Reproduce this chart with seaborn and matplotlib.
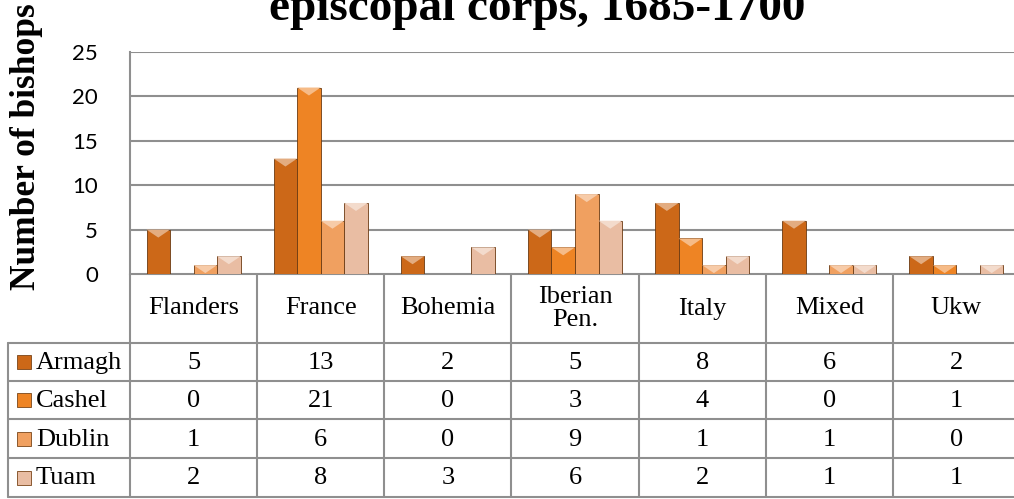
import numpy as np
import pandas as pd
import matplotlib
matplotlib.use("Agg")
import matplotlib.pyplot as plt
import seaborn as sns
from matplotlib.patches import Polygon, Rectangle
from matplotlib.colors import to_rgb

regions = ["Flanders", "France", "Bohemia", "Iberian\nPen.", "Italy", "Mixed", "Ukw"]
sees = ["Armagh", "Cashel", "Dublin", "Tuam"]
armagh = [5, 13, 2, 5, 8, 6, 2]
cashel = [0, 21, 0, 3, 4, 0, 1]
dublin = [1, 6, 0, 9, 1, 1, 0]
tuam = [2, 8, 3, 6, 2, 1, 1]
colors = ["#CC6818", "#EE8424", "#F0A060", "#E9BDA3"]

df = pd.DataFrame({
    "region": regions * 4,
    "see": [s for s in sees for _ in regions],
    "count": armagh + cashel + dublin + tuam,
})

sns.set_theme(style="white")
plt.rcParams["font.family"] = ["Liberation Serif", "DejaVu Serif"]
plt.rcParams["text.color"] = "black"
plt.rcParams["ytick.color"] = "black"

W, H = 1014, 499
fig = plt.figure(figsize=(W / 100, H / 100), dpi=100)

# plot area in pixels
L, R, TOP, BASE = 130, 1020, 52, 274
cw = (R - L) / len(regions)
grid_c = "#8F8F8F"

ax = fig.add_axes([L / W, 1 - BASE / H, (R - L) / W, (BASE - TOP) / H])
sns.barplot(data=df, x="region", y="count", hue="see", palette=colors,
            width=0.74, ax=ax, legend=False, edgecolor="#6B3A12", linewidth=0.6,
            saturation=1)
ax.set_xlim(-0.5, len(regions) - 0.5)
ax.set_ylim(0, 25)
ax.set_yticks([0, 5, 10, 15, 20, 25])
ax.yaxis.grid(True, color=grid_c, linewidth=1.5)
ax.set_axisbelow(True)
ax.set_xticks([])
ax.set_xlabel("")
ax.set_ylabel("")
for side in ["top", "right", "bottom"]:
    ax.spines[side].set_visible(False)
ax.spines["left"].set_color(grid_c)
ax.spines["left"].set_linewidth(1.5)
ax.tick_params(axis="y", length=0, pad=23, labelsize=16, labelcolor="black")
for t in ax.get_yticklabels():
    t.set_fontfamily("Lato")

# bevel tops on bars
for p in ax.patches:
    h = p.get_height()
    if h <= 0:
        continue
    x0, w = p.get_x(), p.get_width()
    c = np.array(to_rgb(p.get_facecolor()))
    light = tuple(c + (1 - c) * 0.45)
    bh = min(0.9, h)
    ax.add_patch(Polygon([[x0, h], [x0 + w, h], [x0 + w * 0.5, h - bh]],
                         closed=True, facecolor=light, edgecolor="none", zorder=3))

# data table in pixel space
tax = fig.add_axes([0, 0, 1, 1], zorder=-1)
tax.set_xlim(0, W)
tax.set_ylim(H, 0)
tax.axis("off")
lw = 1.5
row_tops = [343, 381, 419, 458, 497]
xs = [L + i * cw for i in range(len(regions) + 1)]
for x in xs:
    tax.plot([x, x], [BASE, row_tops[-1]], color=grid_c, lw=lw)
tax.plot([8, 8], [row_tops[0], row_tops[-1]], color=grid_c, lw=lw)
tax.plot([L, R], [BASE, BASE], color=grid_c, lw=lw)
for y in row_tops:
    tax.plot([8, R], [y, y], color=grid_c, lw=lw)

for i, reg in enumerate(regions):
    tax.text(L + (i + 0.5) * cw, (BASE + row_tops[0]) / 2, reg, ha="center",
             va="center", fontsize=19, linespacing=1.05)

series = [armagh, cashel, dublin, tuam]
for r, (name, vals, col) in enumerate(zip(sees, series, colors)):
    yc = (row_tops[r] + row_tops[r + 1]) / 2
    tax.add_patch(Rectangle((17, yc - 7), 14, 14, facecolor=col,
                            edgecolor="#7A4518", lw=0.6))
    tax.text(36, yc + 1, name, ha="left", va="center", fontsize=19)
    for i, v in enumerate(vals):
        tax.text(L + (i + 0.5) * cw, yc + 1, str(v), ha="center", va="center",
                 fontsize=19)

fig.text(10 / W, 1 - 290 / H, "Number of bishops", rotation=90, ha="left",
         va="bottom", fontsize=25.5, fontweight="bold")
fig.text(537 / W, 1 - 20 / H, "episcopal corps, 1685-1700", ha="center",
         va="baseline", fontsize=34, fontweight="bold")

fig.savefig("out.png", dpi=100)
